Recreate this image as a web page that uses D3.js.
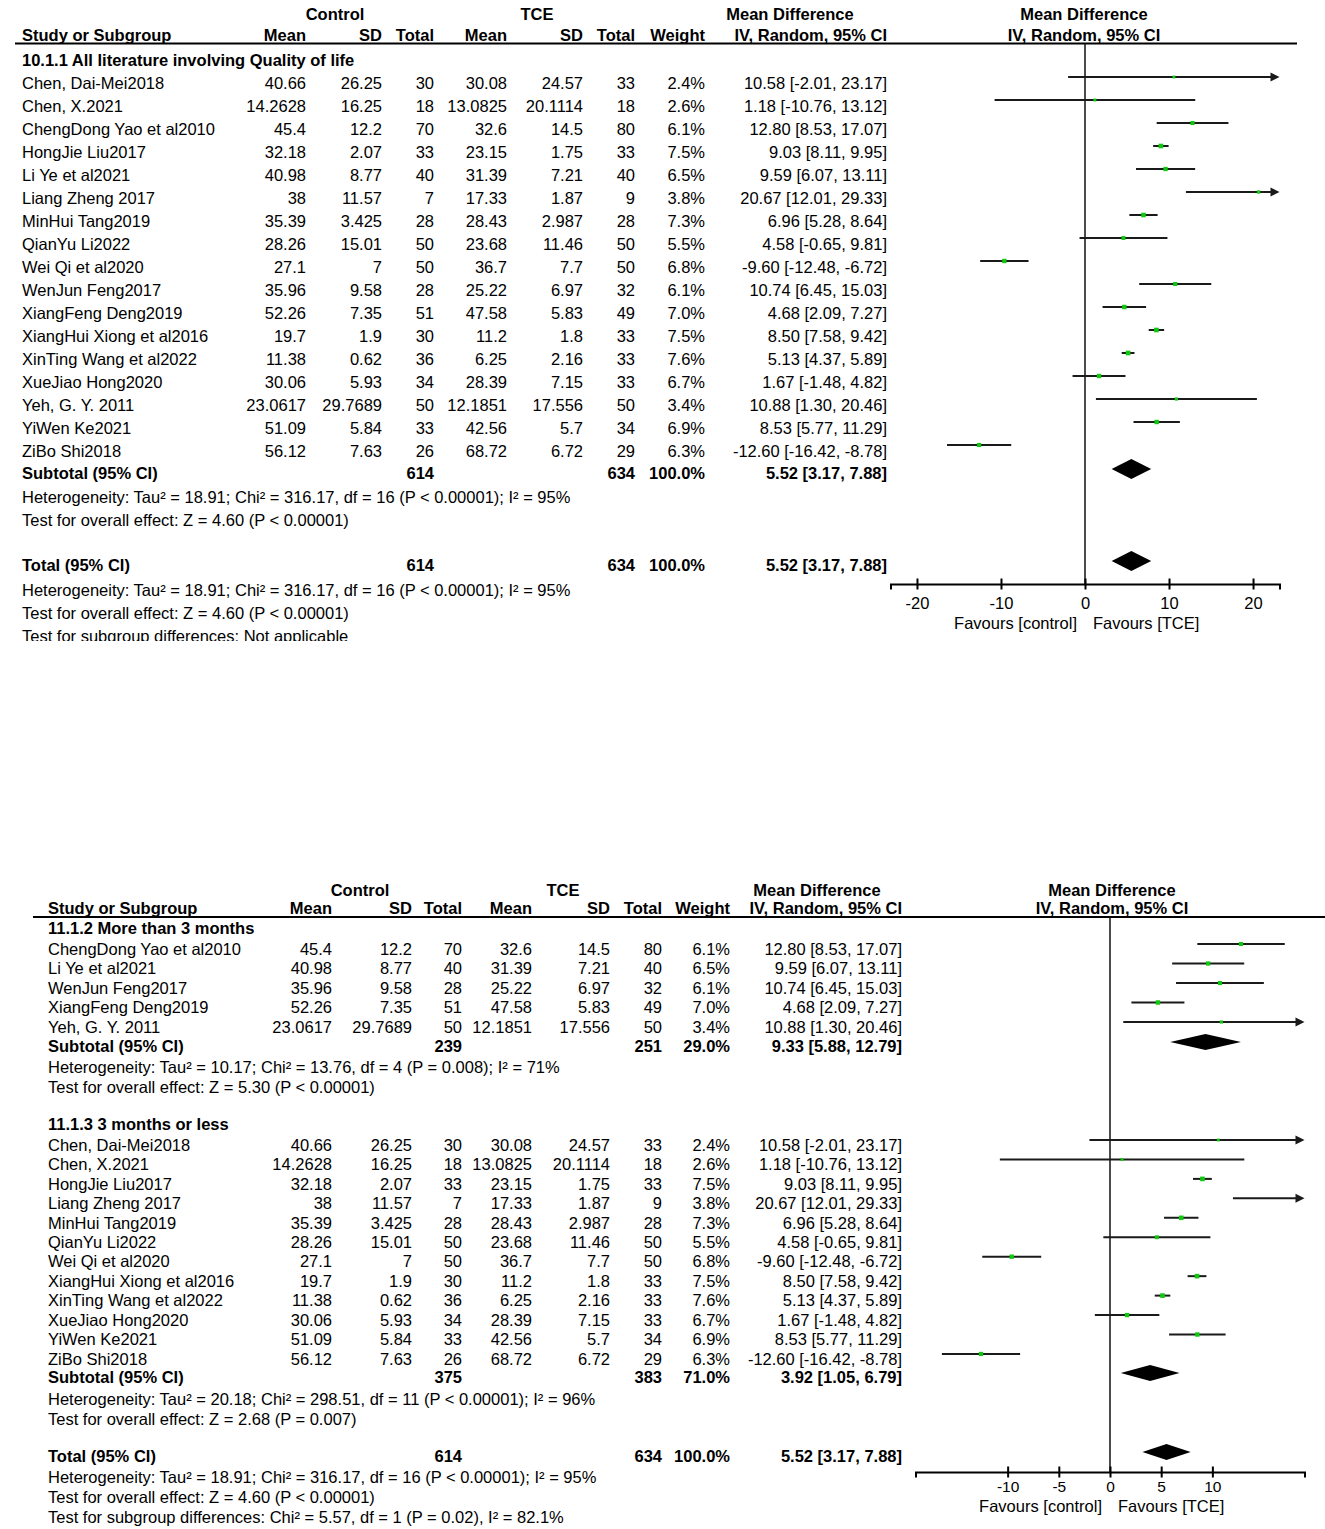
<!DOCTYPE html>
<html>
<head>
<meta charset="utf-8">
<script src="https://cdn.jsdelivr.net/npm/d3@7"></script>
<style>
  body { margin: 0; background: #fff; }
  text { font-family: "Liberation Sans", Arial, sans-serif; font-size: 16.5px; fill: #000; }
  .b { font-weight: bold; }
</style>
</head>
<body>
<div id="vis"></div>
<script>
// ---------------- data ----------------
var studies = ["Chen, Dai-Mei2018", "Chen, X.2021", "ChengDong Yao et al2010", "HongJie Liu2017",
  "Li Ye et al2021", "Liang Zheng 2017", "MinHui Tang2019", "QianYu Li2022", "Wei Qi et al2020",
  "WenJun Feng2017", "XiangFeng Deng2019", "XiangHui Xiong et al2016", "XinTing Wang et al2022",
  "XueJiao Hong2020", "Yeh, G. Y. 2011", "YiWen Ke2021", "ZiBo Shi2018"];
var ctrlMean = [40.66, 14.2628, 45.4, 32.18, 40.98, 38, 35.39, 28.26, 27.1, 35.96, 52.26, 19.7, 11.38, 30.06, 23.0617, 51.09, 56.12];
var ctrlSD = [26.25, 16.25, 12.2, 2.07, 8.77, 11.57, 3.425, 15.01, 7, 9.58, 7.35, 1.9, 0.62, 5.93, 29.7689, 5.84, 7.63];
var ctrlTotal = [30, 18, 70, 33, 40, 7, 28, 50, 50, 28, 51, 30, 36, 34, 50, 33, 26];
var tceMean = [30.08, 13.0825, 32.6, 23.15, 31.39, 17.33, 28.43, 23.68, 36.7, 25.22, 47.58, 11.2, 6.25, 28.39, 12.1851, 42.56, 68.72];
var tceSD = [24.57, 20.1114, 14.5, 1.75, 7.21, 1.87, 2.987, 11.46, 7.7, 6.97, 5.83, 1.8, 2.16, 7.15, 17.556, 5.7, 6.72];
var tceTotal = [33, 18, 80, 33, 40, 9, 28, 50, 50, 32, 49, 33, 33, 33, 50, 34, 29];
var weight = [2.4, 2.6, 6.1, 7.5, 6.5, 3.8, 7.3, 5.5, 6.8, 6.1, 7.0, 7.5, 7.6, 6.7, 3.4, 6.9, 6.3];
var md = [10.58, 1.18, 12.80, 9.03, 9.59, 20.67, 6.96, 4.58, -9.60, 10.74, 4.68, 8.50, 5.13, 1.67, 10.88, 8.53, -12.60];
var ciLow = [-2.01, -10.76, 8.53, 8.11, 6.07, 12.01, 5.28, -0.65, -12.48, 6.45, 2.09, 7.58, 4.37, -1.48, 1.30, 5.77, -16.42];
var ciHigh = [23.17, 13.12, 17.07, 9.95, 13.11, 29.33, 8.64, 9.81, -6.72, 15.03, 7.27, 9.42, 5.89, 4.82, 20.46, 11.29, -8.78];

// subgroups (indices into the study arrays)
var allStudies = [0, 1, 2, 3, 4, 5, 6, 7, 8, 9, 10, 11, 12, 13, 14, 15, 16];
var moreThan3 = [2, 4, 9, 10, 14];
var lessThan3 = [0, 1, 3, 5, 6, 7, 8, 11, 12, 13, 15, 16];
var groupTitles = ["10.1.1 All literature involving Quality of life", "11.1.2 More than 3 months", "11.1.3 3 months or less"];

// pooled rows: 0 = all literature, 1 = more than 3 months, 2 = 3 months or less, 3 = total
var sumCtrlN = [614, 239, 375, 614];
var sumTceN = [634, 251, 383, 634];
var sumWeight = [100.0, 29.0, 71.0, 100.0];
var sumMD = [5.52, 9.33, 3.92, 5.52];
var sumLow = [3.17, 5.88, 1.05, 3.17];
var sumHigh = [7.88, 12.79, 6.79, 7.88];
var heterogeneity = [
  "Heterogeneity: Tau\u00b2 = 18.91; Chi\u00b2 = 316.17, df = 16 (P < 0.00001); I\u00b2 = 95%",
  "Heterogeneity: Tau\u00b2 = 10.17; Chi\u00b2 = 13.76, df = 4 (P = 0.008); I\u00b2 = 71%",
  "Heterogeneity: Tau\u00b2 = 20.18; Chi\u00b2 = 298.51, df = 11 (P < 0.00001); I\u00b2 = 96%",
  "Heterogeneity: Tau\u00b2 = 18.91; Chi\u00b2 = 316.17, df = 16 (P < 0.00001); I\u00b2 = 95%"];
var overallEffect = [
  "Test for overall effect: Z = 4.60 (P < 0.00001)",
  "Test for overall effect: Z = 5.30 (P < 0.00001)",
  "Test for overall effect: Z = 2.68 (P = 0.007)",
  "Test for overall effect: Z = 4.60 (P < 0.00001)"];
var subgroupTests = ["Test for subgroup differences: Not applicable",
  "Test for subgroup differences: Chi\u00b2 = 5.57, df = 1 (P = 0.02), I\u00b2 = 82.1%"];

var topTicks = [-20, -10, 0, 10, 20];
var bottomTicks = [-10, -5, 0, 5, 10];

// ---------------- drawing ----------------
var svg = d3.select('#vis').append('svg')
  .attr('width', 1325)
  .attr('height', 1529);

function fmt2(v) { return v.toFixed(2); }
function ciText(m, l, h) { return fmt2(m) + ' [' + fmt2(l) + ', ' + fmt2(h) + ']'; }

function forest(L, rows) {
  var g = svg.append('g');
  if (L.clip) {
    svg.append('clipPath').attr('id', L.clip.id)
      .append('rect').attr('x', 0).attr('y', 0).attr('width', 1325).attr('height', L.clip.h);
    g.attr('clip-path', 'url(#' + L.clip.id + ')');
  }
  var x = d3.scaleLinear().domain(L.domain).range(L.range);
  var c = L.cols;

  function txt(s, xx, yy, anchor, bold) {
    return g.append('text')
      .attr('x', xx).attr('y', yy).attr('dy', '0.35em')
      .attr('text-anchor', anchor || 'start')
      .attr('class', bold ? 'b' : null)
      .text(s);
  }

  // header
  txt('Control', L.hdr.control, L.h1, 'middle', true);
  txt('TCE', L.hdr.tce, L.h1, 'middle', true);
  txt('Mean Difference', L.hdr.md, L.h1, 'middle', true);
  txt('Mean Difference', L.hdr.plot, L.h1, 'middle', true);
  txt('Study or Subgroup', L.x0, L.h2, 'start', true);
  txt('Mean', c.cm, L.h2, 'end', true);
  txt('SD', c.csd, L.h2, 'end', true);
  txt('Total', c.cn, L.h2, 'end', true);
  txt('Mean', c.tm, L.h2, 'end', true);
  txt('SD', c.tsd, L.h2, 'end', true);
  txt('Total', c.tn, L.h2, 'end', true);
  txt('Weight', c.w, L.h2, 'end', true);
  txt('IV, Random, 95% CI', c.ci, L.h2, 'end', true);
  txt('IV, Random, 95% CI', L.hdr.plot, L.h2, 'middle', true);
  g.append('line')
    .attr('x1', L.line[0]).attr('x2', L.line[1])
    .attr('y1', L.lineY).attr('y2', L.lineY)
    .attr('stroke', '#000').attr('stroke-width', 2);

  // zero line
  g.append('line')
    .attr('x1', x(0)).attr('x2', x(0))
    .attr('y1', L.lineY).attr('y2', L.axisY)
    .attr('stroke', '#111').attr('stroke-width', 1.5);

  var dMin = L.domain[0], dMax = L.domain[1];

  rows.forEach(function (r) {
    if (r.type === 'group') {
      txt(r.text, L.x0, r.y, 'start', true);
    } else if (r.type === 'text') {
      txt(r.text, L.x0, r.y, 'start', false);
    } else if (r.type === 'study') {
      var i = r.i;
      txt(studies[i], L.x0, r.y);
      txt(String(ctrlMean[i]), c.cm, r.y, 'end');
      txt(String(ctrlSD[i]), c.csd, r.y, 'end');
      txt(String(ctrlTotal[i]), c.cn, r.y, 'end');
      txt(String(tceMean[i]), c.tm, r.y, 'end');
      txt(String(tceSD[i]), c.tsd, r.y, 'end');
      txt(String(tceTotal[i]), c.tn, r.y, 'end');
      txt(weight[i].toFixed(1) + '%', c.w, r.y, 'end');
      txt(ciText(md[i], ciLow[i], ciHigh[i]), c.ci, r.y, 'end');

      var my = r.y - L.markOff;
      var x1 = x(Math.max(ciLow[i], dMin));
      var x2 = x(Math.min(ciHigh[i], dMax));
      var arrowR = ciHigh[i] > dMax;
      g.append('line')
        .attr('x1', x1).attr('x2', arrowR ? x2 - 6 : x2)
        .attr('y1', my).attr('y2', my)
        .attr('stroke', '#1a1a1a').attr('stroke-width', 2);
      if (arrowR) {
        g.append('path')
          .attr('d', 'M' + x2 + ',' + my + 'L' + (x2 - 9) + ',' + (my - 4.5) + 'L' + (x2 - 9) + ',' + (my + 4.5) + 'Z')
          .attr('fill', '#1a1a1a');
      }
      // point estimates outside the axis range are not drawn
      if (md[i] >= dMin && md[i] <= dMax) {
        var s = 2 + weight[i] * 0.35;
        g.append('rect')
          .attr('x', x(md[i]) - s / 2).attr('y', my - s / 2)
          .attr('width', s).attr('height', s)
          .attr('fill', '#10c810');
      }
    } else if (r.type === 'summary') {
      var k = r.k;
      txt(r.label, L.x0, r.y, 'start', true);
      txt(String(sumCtrlN[k]), c.cn, r.y, 'end', true);
      txt(String(sumTceN[k]), c.tn, r.y, 'end', true);
      txt(sumWeight[k].toFixed(1) + '%', c.w, r.y, 'end', true);
      txt(ciText(sumMD[k], sumLow[k], sumHigh[k]), c.ci, r.y, 'end', true);
      var dy = r.y - L.diaOff, h = L.diaH;
      g.append('path')
        .attr('d', 'M' + x(sumLow[k]) + ',' + dy +
          'L' + x(sumMD[k]) + ',' + (dy - h) +
          'L' + x(sumHigh[k]) + ',' + dy +
          'L' + x(sumMD[k]) + ',' + (dy + h) + 'Z')
        .attr('fill', '#000');
    }
  });

  // axis
  var axis = d3.axisBottom(x).tickValues(L.ticks)
    .tickFormat(function (d) { return String(d); })
    .tickSizeOuter(0).tickSize(5.5).tickPadding(0);
  var ag = g.append('g')
    .attr('transform', 'translate(0,' + L.axisY + ')')
    .call(axis);
  ag.select('.domain').attr('stroke', '#000').attr('stroke-width', 2);
  ag.selectAll('.tick line').attr('y1', -5.5).attr('y2', 5.5).attr('stroke', '#000').attr('stroke-width', 2);
  ag.selectAll('.tick text').attr('y', L.tickY).attr('dy', '0.35em')
    .style('font-size', L.tickFont + 'px');

  txt('Favours [control]', x(0) - 8, L.favY, 'end');
  txt('Favours [TCE]', x(0) + 8, L.favY, 'start');
}

// ---------- top panel ----------
var topRows = [{ type: 'group', text: groupTitles[0], y: 60 }];
allStudies.forEach(function (i, j) {
  topRows.push({ type: 'study', i: i, y: 83 + j * 23 });
});
topRows.push({ type: 'summary', k: 0, label: 'Subtotal (95% CI)', y: 473 });
topRows.push({ type: 'text', text: heterogeneity[0], y: 497 });
topRows.push({ type: 'text', text: overallEffect[0], y: 520 });
topRows.push({ type: 'summary', k: 3, label: 'Total (95% CI)', y: 565 });
topRows.push({ type: 'text', text: heterogeneity[3], y: 590 });
topRows.push({ type: 'text', text: overallEffect[3], y: 613 });
topRows.push({ type: 'text', text: subgroupTests[0], y: 636 });

forest({
  x0: 22, h1: 14, h2: 35, lineY: 43.5, line: [15, 1297],
  hdr: { control: 335, tce: 537, md: 790, plot: 1084 },
  cols: { cm: 306, csd: 382, cn: 434, tm: 507, tsd: 583, tn: 635, w: 705, ci: 887 },
  domain: [-23.15, 23.15], range: [890.5, 1279.5], ticks: topTicks,
  axisY: 584, tickY: 19, tickFont: 16.5, favY: 623, markOff: 6, diaOff: 4, diaH: 10,
  clip: { id: 'clipTop', h: 641 }
}, topRows);

// ---------- bottom panel ----------
var botRows = [{ type: 'group', text: groupTitles[1], y: 928 }];
moreThan3.forEach(function (i, j) {
  botRows.push({ type: 'study', i: i, y: 949 + j * 19.5 });
});
botRows.push({ type: 'summary', k: 1, label: 'Subtotal (95% CI)', y: 1046 });
botRows.push({ type: 'text', text: heterogeneity[1], y: 1067 });
botRows.push({ type: 'text', text: overallEffect[1], y: 1087 });
botRows.push({ type: 'group', text: groupTitles[2], y: 1124 });
lessThan3.forEach(function (i, j) {
  botRows.push({ type: 'study', i: i, y: 1145 + j * 19.45 });
});
botRows.push({ type: 'summary', k: 2, label: 'Subtotal (95% CI)', y: 1377 });
botRows.push({ type: 'text', text: heterogeneity[2], y: 1399 });
botRows.push({ type: 'text', text: overallEffect[2], y: 1419 });
botRows.push({ type: 'summary', k: 3, label: 'Total (95% CI)', y: 1456 });
botRows.push({ type: 'text', text: heterogeneity[3], y: 1477 });
botRows.push({ type: 'text', text: overallEffect[3], y: 1497 });
botRows.push({ type: 'text', text: subgroupTests[1], y: 1517 });

forest({
  x0: 48, h1: 890, h2: 908, lineY: 917, line: [33, 1325],
  hdr: { control: 360, tce: 563, md: 817, plot: 1112 },
  cols: { cm: 332, csd: 412, cn: 462, tm: 532, tsd: 610, tn: 662, w: 730, ci: 902 },
  domain: [-19, 19], range: [915.5, 1304.5], ticks: bottomTicks,
  axisY: 1472, tickY: 14.5, tickFont: 15.5, favY: 1506, markOff: 5, diaOff: 4, diaH: 8
}, botRows);
</script>
</body>
</html>
